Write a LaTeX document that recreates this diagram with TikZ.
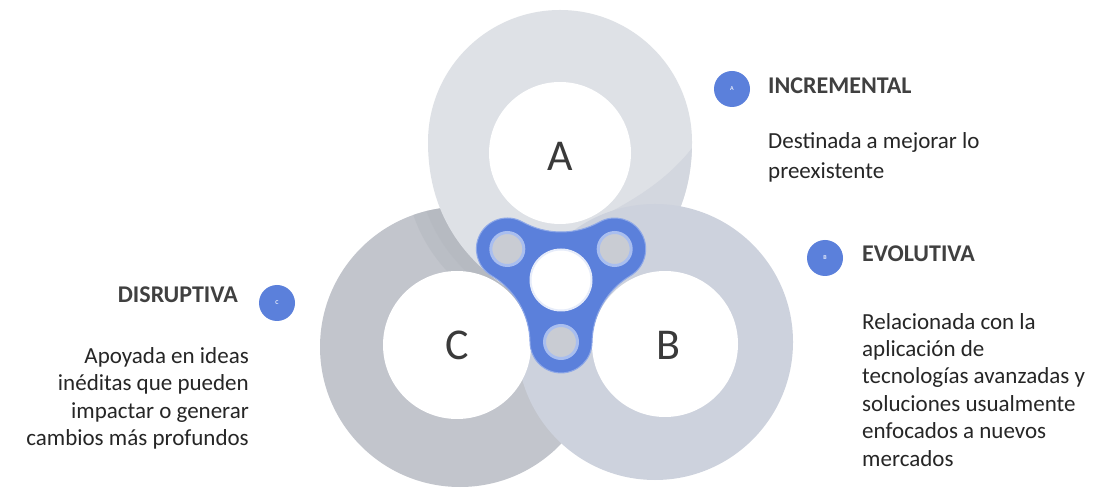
\documentclass[tikz,border=0pt]{standalone}
\usepackage{fontspec}
\setmainfont{Carlito}
\usetikzlibrary{calc}
\definecolor{ringA}{HTML}{DEE1E6}
\definecolor{ringAdark}{HTML}{D3D7DF}
\definecolor{ringB}{HTML}{CDD2DD}
\definecolor{ringC}{HTML}{C2C5CC}
\definecolor{ringCdark}{HTML}{B2B6BE}
\definecolor{spin}{HTML}{5B80DB}
\definecolor{spinrim}{HTML}{8EA8E8}
\definecolor{lobefill}{HTML}{C9CCD3}
\definecolor{halo}{HTML}{A9BEEF}
\definecolor{headc}{HTML}{404040}
\definecolor{bodyc}{HTML}{262626}
\definecolor{letc}{HTML}{3A3A3A}
\tikzset{
  Apath/.style={insert path={(428,345) arc[start angle=180,end angle=0,radius=132pt]
     .. controls (692,277) and (660,212) .. (560,172)
     .. controls (460,212) and (428,277) .. (428,345) -- cycle}},
  headtxt/.style={font=\fontsize{24}{28}\selectfont\bfseries, text=headc, inner sep=0pt},
  bodytxt/.style={font=\fontsize{23}{28}\selectfont, text=bodyc, inner sep=0pt},
  bigletter/.style={font=\fontsize{44}{44}\selectfont, text=letc, inner sep=0pt},
  bullet/.style={circle, fill=spin, minimum size=36pt, inner sep=0pt, text=white!85!spin,
     font=\fontsize{6}{6}\selectfont\bfseries},
  lobehole/.style={circle, fill=lobefill, draw=halo, line width=3pt, minimum size=33pt, inner sep=0pt},
  centerhole/.style={circle, fill=white, draw=white!85!spin, line width=2pt, minimum size=61pt, inner sep=0pt},
}
\begin{document}
\begin{tikzpicture}[x=1pt,y=1pt]
\useasboundingbox (0,0) rectangle (1099,487);
\fill[white] (0,0) rectangle (1099,487);
% ring C
\fill[ringC] (460,140) circle[radius=140pt];
\begin{scope}
  \clip (460,140) circle[radius=140pt];
  \fill[ringCdark, opacity=0.45, shift={(-24,-14)}, Apath];
  \fill[ringCdark, opacity=0.45, shift={(-12,-7)}, Apath];
\end{scope}
% ring A (drop shape)
\fill[ringA, Apath];
\begin{scope}
  \clip[Apath];
  \fill[ringAdark] (585,262) .. controls (625,282) and (670,305) .. (700,350) -- (730,350) -- (730,240) -- (585,240) -- cycle;
\end{scope}
% ring B
\fill[ringB] (655,145) circle[radius=138pt];
% inner white discs
\fill[white] (560,334) circle[radius=71pt];
\fill[white] (457,142) circle[radius=74pt];
\fill[white] (665,143) circle[radius=73pt];
% spinner
\coordinate (S) at (561,207);
\fill[spin, draw=spinrim, line width=1pt]
  ($(S)+(30:62pt)+(-59.2:31pt)$)
  arc[start angle=-59.2, end angle=119.2, radius=31pt]
  arc[start angle=-60.8, end angle=-119.2, radius=79pt]
  arc[start angle=60.8, end angle=239.2, radius=31pt]
  arc[start angle=59.2, end angle=0.8, radius=79pt]
  arc[start angle=180.8, end angle=359.2, radius=31pt]
  arc[start angle=179.2, end angle=120.8, radius=79pt] -- cycle;
\foreach \a/\n in {30/l1,150/l2,270/l3}
  \node[lobehole] (\n) at ($(S)+(\a:62pt)$) {};
\node[centerhole] (hub) at (S) {};
% big letters
\node[bigletter] (la) at (560,331) {A};
\node[bigletter] (lb) at (668,142) {B};
\node[bigletter] (lc) at (457,142) {C};
% bullets
\node[bullet] (ba) at (732,398) {A};
\node[bullet] (bb) at (825,229) {B};
\node[bullet] (bc) at (277,184) {C};
% INCREMENTAL
\node[headtxt, anchor=base west] (ha) at (768,393) {INCREMENTAL};
\node[bodytxt, anchor=base west] (ta1) at (768,338) {Destinada a mejorar lo};
\node[bodytxt, anchor=base west] (ta2) at (768,308) {preexistente};
% EVOLUTIVA
\node[headtxt, anchor=base west] (hb) at (862,225) {EVOLUTIVA};
\node[bodytxt, anchor=base west] (tb1) at (862,157) {Relacionada con la};
\node[bodytxt, anchor=base west] (tb2) at (862,130) {aplicación de};
\node[bodytxt, anchor=base west] (tb3) at (862,103) {tecnologías avanzadas y};
\node[bodytxt, anchor=base west] (tb4) at (862,76) {soluciones usualmente};
\node[bodytxt, anchor=base west] (tb5) at (862,49) {enfocados a nuevos};
\node[bodytxt, anchor=base west] (tb6) at (862,21) {mercados};
% DISRUPTIVA
\node[headtxt, anchor=base east] (hc) at (238,184) {DISRUPTIVA};
\node[bodytxt, anchor=base east] (tc1) at (249,123) {Apoyada en ideas};
\node[bodytxt, anchor=base east] (tc2) at (249,96) {inéditas que pueden};
\node[bodytxt, anchor=base east] (tc3) at (249,69) {impactar o generar};
\node[bodytxt, anchor=base east] (tc4) at (249,42) {cambios más profundos};
\end{tikzpicture}
\end{document}
